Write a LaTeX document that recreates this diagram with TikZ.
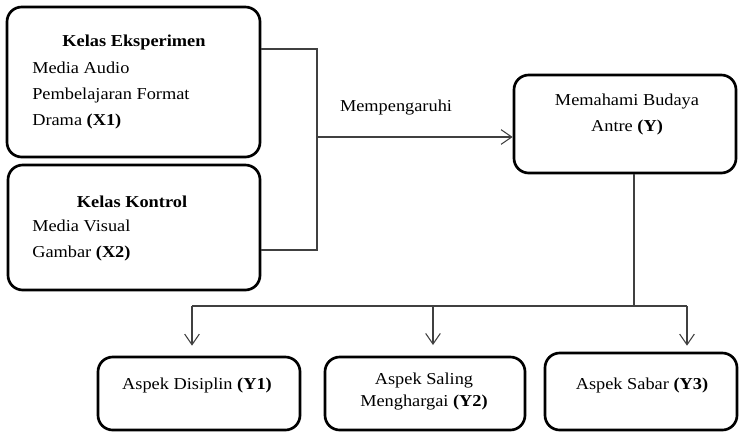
\documentclass[tikz,border=0pt]{standalone}
\usepackage{fontspec}
\setmainfont[FakeStretch=1.1]{Liberation Serif}
\usetikzlibrary{arrows.meta}
\begin{document}
\begin{tikzpicture}[x=0.75pt, y=-0.75pt,
  box/.style={draw, rounded corners=11pt, line width=2pt},
  txt/.style={font=\fontsize{12.5}{19.5}\selectfont, inner sep=0pt},
  conn/.style={draw=black!75, line width=0.8pt},
  arr/.style={conn, -{Straight Barb[length=8pt, width=11pt]}}]
\useasboundingbox (0,0) rectangle (739,433);
\node[box, minimum width=189.75pt, minimum height=112.5pt] (eksp) at (133.5,82){};
\node[txt] (eksphead) at (134,42){\textbf{Kelas Eksperimen}};
\node[txt, anchor=west, align=left] (eksptxt) at (32,95){Media Audio\\Pembelajaran Format\\Drama \textbf{(X1)}};
\node[box, minimum width=189pt, minimum height=93.75pt] (kontrol) at (134,227.5){};
\node[txt] (kontrolhead) at (132,202){\textbf{Kelas Kontrol}};
\node[txt, anchor=west, align=left] (kontroltxt) at (32,240){Media Visual\\Gambar \textbf{(X2)}};
\node[box, minimum width=166.5pt, minimum height=73.5pt] (budaya) at (625,124){};
\node[txt, align=center] (budayatxt) at (627,114.5){Memahami Budaya\\Antre \textbf{(Y)}};
\node[txt] (pengaruh) at (396,108){Mempengaruhi};
\node[box, minimum width=151.5pt, minimum height=54.75pt] (y1) at (199,393.5){};
\node[txt] (y1txt) at (197,385){Aspek Disiplin \textbf{(Y1)}};
\node[box, minimum width=150pt, minimum height=54.75pt] (y2) at (425,393.5){};
\node[txt, font=\fontsize{12.5}{17}\selectfont, align=center] (y2txt) at (424,391.5){Aspek Saling\\Menghargai \textbf{(Y2)}};
\node[box, minimum width=144pt, minimum height=57.75pt] (y3) at (641,391.5){};
\node[txt] (y3txt) at (642,385){Aspek Sabar \textbf{(Y3)}};
\coordinate (j1) at (317,49);
\coordinate (j2) at (317,250);
\coordinate (j3) at (317,137);
\coordinate (j4) at (634,306);
\coordinate (j5) at (192,306);
\coordinate (j6) at (433,306);
\coordinate (j7) at (687,306);
\draw[conn] (eksp.east |- j1) -- (j1) -- (j2) -- (kontrol.east |- j2);
\draw[arr] (j3) -- (j3 -| budaya.west);
\draw[conn] (j4 |- budaya.south) -- (j4);
\draw[conn] (j5) -- (j7);
\draw[arr, shorten >=7.5pt] (j5) -- (j5 |- y1.north);
\draw[arr, shorten >=8pt] (j6) -- (j6 |- y2.north);
\draw[arr, shorten >=4.5pt] (j7) -- (j7 |- y3.north);
\end{tikzpicture}
\end{document}
